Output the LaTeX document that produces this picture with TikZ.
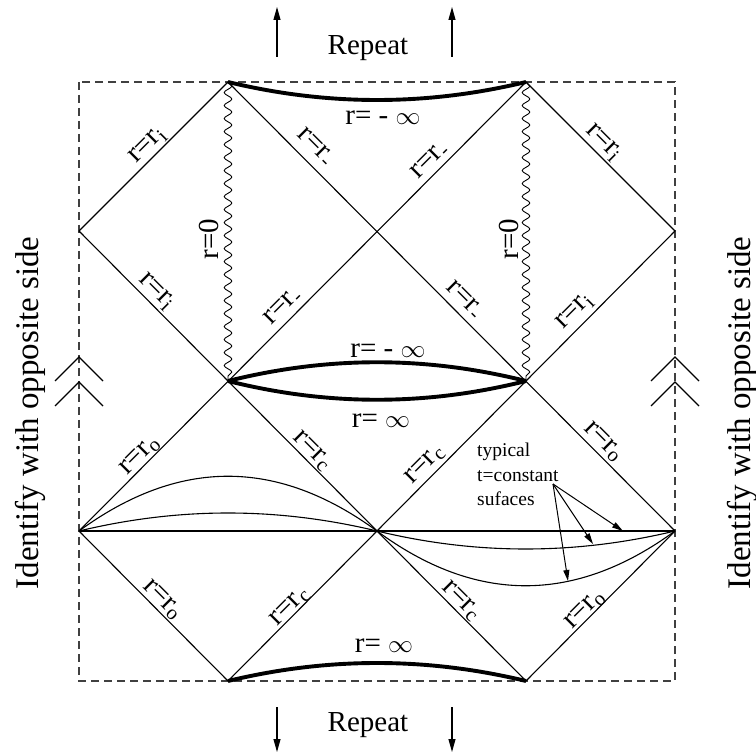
\documentclass[tikz,border=0pt]{standalone}
\usepackage{fontspec}
\setmainfont{Liberation Serif}
\usetikzlibrary{arrows.meta,decorations.pathmorphing}
\begin{document}
\begin{tikzpicture}[x=1pt,y=-1pt,
 edgeline/.style={line width=1.1pt},
 heavy/.style={line width=3.9pt},
 frame/.style={dash pattern=on 8pt off 5pt, line width=1.1pt, black!75},
 lab/.style={font=\fontsize{29}{34}\selectfont, inner sep=0pt},
 big/.style={font=\fontsize{33}{38}\selectfont, inner sep=0pt},
 wavy/.style={line width=0.9pt, decorate, decoration={snake, amplitude=3.8pt, segment length=13pt}},
 reparrow/.style={line width=1.1pt, -{Stealth[length=13pt,width=7pt,inset=0pt]}},
 ptr/.style={line width=1pt, -{Stealth[length=11pt,width=6pt,inset=0pt]}}]
\useasboundingbox (0,0) rectangle (756,754);
% vertices
\coordinate (T1) at (228,82);  \coordinate (T2) at (526,82);
\coordinate (L1) at (79,231);  \coordinate (C1) at (377,231); \coordinate (R1) at (675,231);
\coordinate (M1) at (228,381); \coordinate (M2) at (526,381);
\coordinate (L2) at (79,531);  \coordinate (C2) at (377,531); \coordinate (R2) at (675,531);
\coordinate (B1) at (228,681); \coordinate (B2) at (526,681);
\coordinate (FTL) at (79,82);  \coordinate (FBR) at (675,681);
% frame
\draw[frame] (FTL) rectangle (FBR);
% null lines
\draw[edgeline] (L1) -- (T1);
\draw[edgeline] (T1) -- (R2);
\draw[edgeline] (T2) -- (L2);
\draw[edgeline] (T2) -- (R1);
\draw[edgeline] (L1) -- (B2);
\draw[edgeline] (R1) -- (B1);
\draw[edgeline] (L2) -- (B1);
\draw[edgeline] (R2) -- (B2);
\draw[edgeline] (L2) -- (R2);
% singularities
\draw[wavy] (T1) -- (M1);
\draw[wavy] (T2) -- (M2);
% infinities
\draw[heavy] (T1) .. controls (328,106) and (426,106) .. (T2);
\draw[heavy] (M1) .. controls (328,356) and (426,356) .. (M2);
\draw[heavy] (M1) .. controls (328,406) and (426,406) .. (M2);
\draw[heavy] (B1) .. controls (328,657) and (426,657) .. (B2);
% t = constant surfaces
\draw[edgeline] (L2) .. controls (179,458) and (277,458) .. (C2);
\draw[edgeline] (L2) .. controls (179,507) and (277,507) .. (C2);
\draw[edgeline] (C2) .. controls (476,604) and (575,604) .. (R2);
\draw[edgeline] (C2) .. controls (476,555) and (575,555) .. (R2);
% labels
\node[lab,rotate=45]  (lTL) at (148,146) {r=r\textsubscript{i}};
\node[lab,rotate=-45] (lA)  at (315,147) {r=r\textsubscript{-}};
\node[lab,rotate=45]  (lB)  at (430,161) {r=r\textsubscript{-}};
\node[lab,rotate=-45] (lTR) at (603,143) {r=r\textsubscript{i}};
\node[lab,rotate=-45] (lL1) at (156,292) {r=r\textsubscript{i}};
\node[lab,rotate=45]  (lC)  at (283,307) {r=r\textsubscript{-}};
\node[lab,rotate=-45] (lD)  at (464,300) {r=r\textsubscript{-}};
\node[lab,rotate=45]  (lR1) at (575,312) {r=r\textsubscript{i}};
\node[lab,rotate=90]  (z1)  at (209,239) {r=0};
\node[lab,rotate=90]  (z2)  at (509,239) {r=0};
\node[lab] (inf1) at (383,118) {r= - $\infty$};
\node[lab] (inf2) at (388,351) {r= - $\infty$};
\node[lab] (inf3) at (381,421) {r= $\infty$};
\node[lab] (inf4) at (384,646) {r= $\infty$};
\node[lab,rotate=45]  (lo1) at (140,456) {r=r\textsubscript{o}};
\node[lab,rotate=-45] (lc1) at (312,451) {r=r\textsubscript{c}};
\node[lab,rotate=45]  (lc2) at (425,465) {r=r\textsubscript{c}};
\node[lab,rotate=-45] (lo2) at (603,442) {r=r\textsubscript{o}};
\node[lab,rotate=-45] (lo3) at (162,600) {r=r\textsubscript{o}};
\node[lab,rotate=45]  (lc3) at (290,607) {r=r\textsubscript{c}};
\node[lab,rotate=-45] (lc4) at (461,601) {r=r\textsubscript{c}};
\node[lab,rotate=45]  (lo4) at (585,610) {r=r\textsubscript{o}};
% typical surfaces note
\node[font=\fontsize{19.5}{24.5}\selectfont, align=left, anchor=north west, inner sep=0pt] (typ) at (477,443) {typical\\t=constant\\sufaces};
\coordinate (ps) at (553,484);
\coordinate (pe1) at (623,531);
\coordinate (pe2) at (593,544);
\coordinate (pe3) at (568,581);
\draw[ptr] (ps) -- (pe1);
\draw[ptr] (ps) -- (pe2);
\draw[ptr] (ps) -- (pe3);
% repeat
\node[lab] (rep1) at (368,48) {Repeat};
\node[lab] (rep2) at (368,725) {Repeat};
\coordinate (ua1) at (277,57); \coordinate (ua1t) at (277,7);
\coordinate (ua2) at (452,57); \coordinate (ua2t) at (452,7);
\coordinate (da1) at (277,707); \coordinate (da1t) at (277,752);
\coordinate (da2) at (452,707); \coordinate (da2t) at (452,752);
\draw[reparrow] (ua1) -- (ua1t);
\draw[reparrow] (ua2) -- (ua2t);
\draw[reparrow] (da1) -- (da1t);
\draw[reparrow] (da2) -- (da2t);
% identification
\node[big,rotate=90] (idl) at (30,413) {Identify with opposite side};
\node[big,rotate=90] (idr) at (742,413) {Identify with opposite side};
\draw[edgeline] (55,381) -- (79,357) -- (103,381);
\draw[edgeline] (55,406) -- (79,382) -- (103,406);
\draw[edgeline] (651,381) -- (675,357) -- (699,381);
\draw[edgeline] (651,406) -- (675,382) -- (699,406);
\end{tikzpicture}
\end{document}
